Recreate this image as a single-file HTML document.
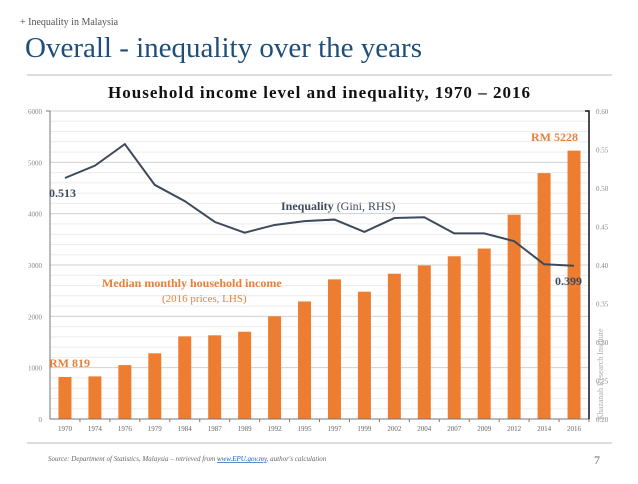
<!DOCTYPE html>
<html><head><meta charset="utf-8"><style>
body{margin:0;background:#fff;width:638px;height:479px;overflow:hidden;font-family:"Liberation Serif",serif;}
</style></head><body>
<svg width="638" height="479" xmlns="http://www.w3.org/2000/svg">
<text x="20" y="25" font-size="10" fill="#555">+  Inequality in Malaysia</text>
<text x="25" y="57" font-size="29" fill="#1f4e79">Overall - inequality over the years</text>
<line x1="27" y1="75" x2="612" y2="75" stroke="#bbb"/>
<text x="319" y="98" font-size="17" font-weight="bold" text-anchor="middle" fill="#111" textLength="422">Household income level and inequality, 1970 – 2016</text>
<g id="grid"></g>
<g id="bars"></g>
<g id="line"></g>
<g id="axes"></g>
<text x="49" y="197" font-size="12" font-weight="bold" fill="#3d4a5c">0.513</text>
<text x="555" y="285" font-size="12" font-weight="bold" fill="#3d4a5c">0.399</text>
<text x="49" y="367" font-size="12" font-weight="bold" fill="#e8803a">RM 819</text>
<text x="531" y="141" font-size="12" font-weight="bold" fill="#e8803a">RM 5228</text>
<text x="281" y="210" font-size="12" fill="#3d4a5c"><tspan font-weight="bold">Inequality</tspan> (Gini, RHS)</text>
<text x="102" y="287" font-size="12" font-weight="bold" fill="#e8803a">Median monthly household income</text>
<text x="162" y="302" font-size="11" fill="#e8803a">(2016 prices, LHS)</text>
<text transform="translate(603,420) rotate(-90)" font-size="8" fill="#aaa">Khazanah Research Institute</text>
<text x="48" y="461" font-size="7" font-style="italic" fill="#666">Source: Department of Statistics, Malaysia – retrieved from <tspan fill="#1a5fb4" text-decoration="underline">www.EPU.gov.my</tspan>, author's calculation</text>
<text x="594" y="464" font-size="12" fill="#666">7</text>
<line x1="27" y1="443" x2="612" y2="443" stroke="#bbb"/>
</svg>
<script>
const years=["1970","1974","1976","1979","1984","1987","1989","1992","1995","1997","1999","2002","2004","2007","2009","2012","2014","2016"];
const income=[819,830,1050,1280,1610,1630,1700,2000,2290,2720,2480,2830,2990,3170,3320,3980,4790,5228];
const gini=[0.513,0.529,0.557,0.504,0.483,0.456,0.442,0.452,0.457,0.459,0.443,0.461,0.462,0.441,0.441,0.431,0.401,0.399];
const leftTicks=[0,1000,2000,3000,4000,5000,6000];
const rightTicks=["0.20","0.25","0.30","0.35","0.40","0.45","0.50","0.55","0.60"];
const NS="http://www.w3.org/2000/svg";
const X0=50,X1=589,Y0=419,Y1=111;
const bw=(X1-X0)/years.length;
const xc=i=>X0+bw*(i+0.5);
const yL=v=>Y0-(v/6000)*(Y0-Y1);
const yR=v=>Y0-((v-0.2)/0.4)*(Y0-Y1);
function mk(t,a,p){const e=document.createElementNS(NS,t);for(const k in a)e.setAttribute(k,a[k]);p.appendChild(e);return e;}
const grid=document.getElementById('grid'),bars=document.getElementById('bars'),line=document.getElementById('line'),axes=document.getElementById('axes');
for(let v=0;v<=6000;v+=200){const g=mk('line',{x1:X0,x2:X1,y1:yL(v),y2:yL(v),stroke:v%1000===0?'#d0d0d0':'#ececec'},grid);

}
income.forEach((v,i)=>{const r=mk('rect',{x:xc(i)-6.5,y:yL(v),width:13,height:Y0-yL(v),fill:'#ed7d31'},bars);

});
const pl=mk('polyline',{points:gini.map((g,i)=>xc(i)+','+yR(g)).join(' '),fill:'none',stroke:'#3d4a5c','stroke-width':2},line);


const la=mk('path',{d:`M${X0-4},${Y1}H${X0}V${Y0}H${X1}`,fill:'none',stroke:'#777'},axes);


const ra=mk('path',{d:`M${X1-4},${Y1}H${X1}V${Y0}`,fill:'none',stroke:'#111','stroke-width':1.5},axes);


leftTicks.forEach(v=>{const t=mk('text',{x:X0-8,y:yL(v)+3,'font-size':7,fill:'#888','text-anchor':'end'},axes);t.textContent=v;

});
rightTicks.forEach(s=>{const t=mk('text',{x:X1+7,y:yR(parseFloat(s))+3,'font-size':7,fill:'#888'},axes);t.textContent=s;

});
years.forEach((s,i)=>{const t=mk('text',{x:xc(i),y:Y0+12,'font-size':7,fill:'#666','text-anchor':'middle'},axes);t.textContent=s;


const k=mk('line',{x1:X0+bw*(i+1),x2:X0+bw*(i+1),y1:Y0,y2:Y0+3,stroke:'#777'},axes);

});
</script>
</body></html>
